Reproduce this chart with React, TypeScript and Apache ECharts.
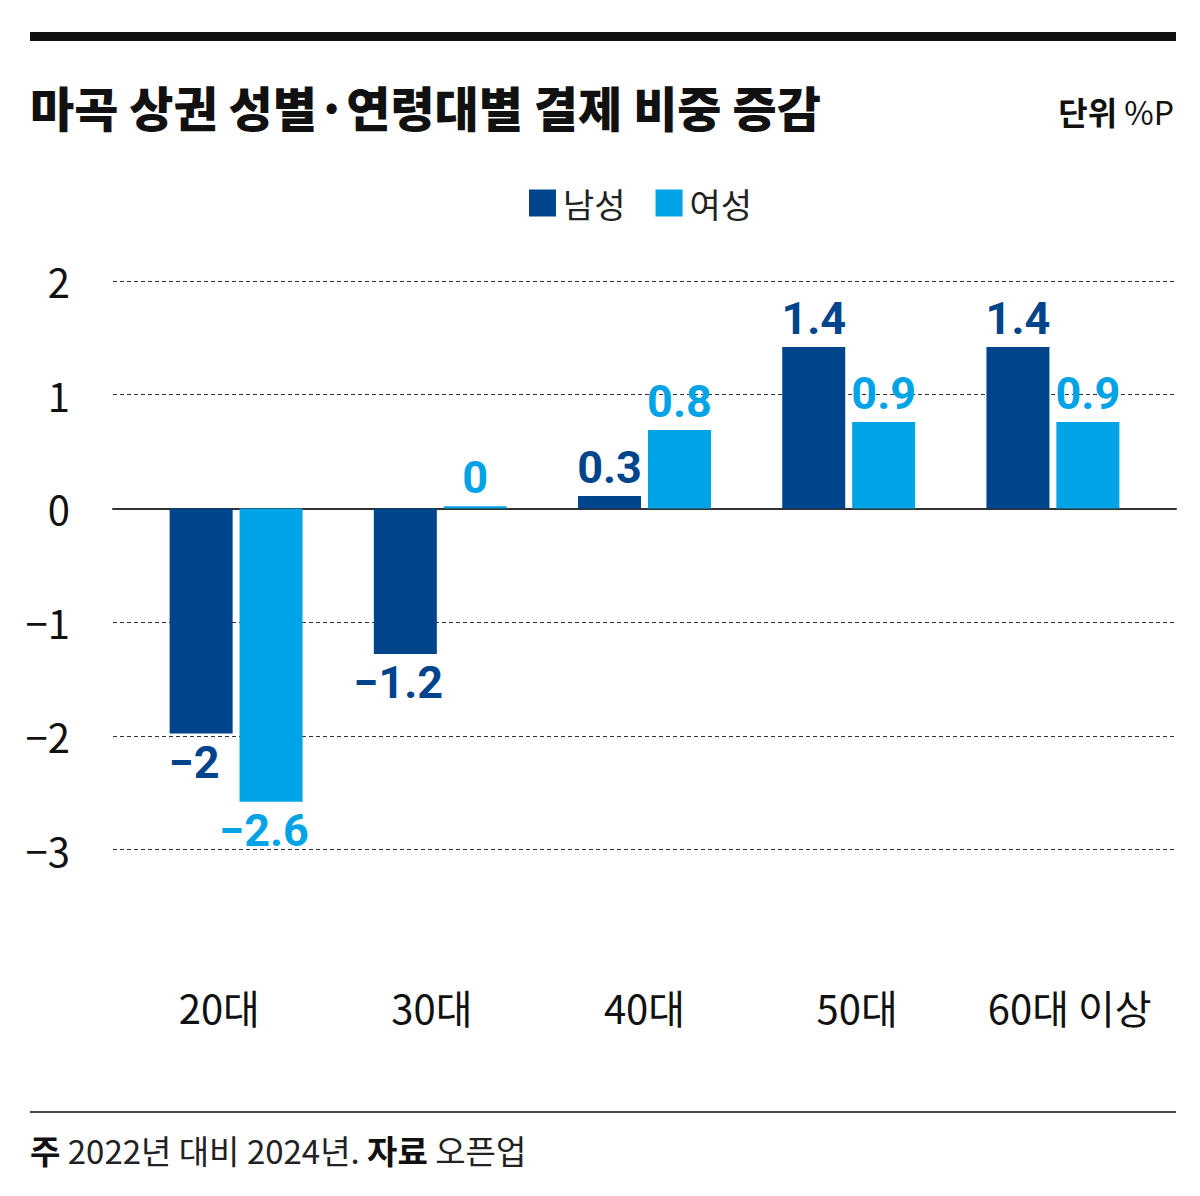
import React, { useEffect, useRef } from "react";
import * as echarts from "echarts";

const categories = ["20대", "30대", "40대", "50대", "60대 이상"];
const seriesNames = ["남성", "여성"];
// bar heights as drawn in the reference
const maleValues = [-1.98, -1.28, 0.11, 1.42, 1.42];
const femaleValues = [-2.58, 0.02, 0.69, 0.76, 0.76];
// value labels as printed in the reference
const maleLabels = ["−2", "−1.2", "0.3", "1.4", "1.4"];
const femaleLabels = ["−2.6", "0", "0.8", "0.9", "0.9"];
const yMin = -3;
const yMax = 2;
const yInterval = 1;

const titleText = "마곡 상권 성별·연령대별 결제 비중 증감";
const unitText = "{b|단위} %P";
const footerText = "{b|주} 2022년 대비 2024년. {b|자료} 오픈업";

const MALE = "#00458c";
const FEMALE = "#00a3e6";
const KR = '"Noto Sans CJK KR", "Noto Sans", sans-serif';

export default function App() {
  const ref = useRef<HTMLDivElement>(null);
  useEffect(() => {
    if (!ref.current) return;
    const chart = echarts.init(ref.current, null, { renderer: "svg" });
    const mkData = (vals: number[], labels: string[], color: string) =>
      vals.map((v, i) => ({
        value: v,
        label: {
          show: true,
          position: v >= 0 ? "top" : "bottom",
          formatter: labels[i],
          color,
          offset: v < 0 ? [-7, 0] : [0, 0],
        },
      }));
    const top = 281;
    const height = 568.5;
    chart.setOption({
      animation: false,
      backgroundColor: "#ffffff",
      legend: {
        data: seriesNames,
        left: 524,
        top: 181,
        itemWidth: 27,
        itemHeight: 27,
        itemGap: 30,
        icon: "rect",
        textStyle: { fontSize: 34, color: "#222", fontFamily: KR, padding: [0, 0, 0, 2] },
      },
      grid: [
        { left: 113, right: 24, top, height },
        { left: 134, width: 1021, top, height },
      ],
      xAxis: [
        {
          type: "category",
          gridIndex: 0,
          data: categories,
          position: "bottom",
          axisLine: { show: false, onZero: false },
          axisTick: { show: false },
          splitLine: { show: false },
          axisLabel: {
            interval: 0,
            margin: 137,
            fontSize: 40,
            color: "#111",
            fontFamily: KR,
            verticalAlign: "top",
            lineHeight: 40,
          },
        },
        {
          type: "category",
          gridIndex: 1,
          data: categories,
          axisLine: { show: false },
          axisTick: { show: false },
          axisLabel: { show: false },
        },
        {
          type: "category",
          gridIndex: 0,
          data: categories,
          position: "bottom",
          axisLine: { show: true, onZero: true, lineStyle: { color: "#333", width: 2 } },
          axisTick: { show: false },
          axisLabel: { show: false },
          splitLine: { show: false },
        },
      ],
      yAxis: [
        {
          type: "value",
          gridIndex: 0,
          min: yMin,
          max: yMax,
          interval: yInterval,
          axisLine: { show: false },
          axisTick: { show: false },
          axisLabel: {
            margin: 43,
            fontSize: 40,
            color: "#111",
            fontFamily: KR,
            formatter: (v: number) => String(v).replace("-", "−"),
          },
          splitLine: { show: true, lineStyle: { color: "#333", width: 1, type: [4, 3] } },
        },
        {
          type: "value",
          gridIndex: 1,
          min: yMin,
          max: yMax,
          interval: yInterval,
          show: false,
          splitLine: { show: false },
        },
      ],
      series: [
        {
          name: seriesNames[0],
          type: "bar",
          xAxisIndex: 1,
          yAxisIndex: 1,
          barWidth: 63,
          barGap: "11%",
          itemStyle: { color: MALE },
          label: { show: true, fontSize: 45, fontWeight: "bold", fontFamily: "Roboto, sans-serif", distance: 6 },
          data: mkData(maleValues, maleLabels, MALE),
        },
        {
          name: seriesNames[1],
          type: "bar",
          xAxisIndex: 1,
          yAxisIndex: 1,
          barWidth: 63,
          barGap: "11%",
          itemStyle: { color: FEMALE },
          label: { show: true, fontSize: 45, fontWeight: "bold", fontFamily: "Roboto, sans-serif", distance: 6 },
          data: mkData(femaleValues, femaleLabels, FEMALE),
        },
      ],
      graphic: [
        { type: "rect", shape: { x: 30, y: 32, width: 1146, height: 9 }, style: { fill: "#111" } },
        {
          type: "text",
          x: 30,
          y: 106,
          style: { text: titleText, font: `900 48px ${KR}`, fill: "#111", verticalAlign: "middle", align: "left" },
        },
        {
          type: "text",
          x: 1174,
          y: 111,
          style: {
            text: unitText,
            font: `32px ${KR}`,
            fill: "#111",
            align: "right",
            verticalAlign: "middle",
            rich: { b: { font: `bold 32px ${KR}`, fill: "#111" } },
          },
        },
        {
          type: "line",
          shape: { x1: 30, y1: 1112, x2: 1176, y2: 1112 },
          style: { stroke: "#444", lineWidth: 2 },
        },
        {
          type: "text",
          x: 30,
          y: 1150,
          style: {
            text: footerText,
            font: `33px ${KR}`,
            fill: "#222",
            align: "left",
            verticalAlign: "middle",
            rich: { b: { font: `bold 33px ${KR}`, fill: "#111" } },
          },
        },
      ],
    });
    return () => chart.dispose();
  }, []);
  return (
    <div
      ref={ref}
      style={{ position: "absolute", left: 0, top: 0, width: 1200, height: 1196 }}
    />
  );
}
